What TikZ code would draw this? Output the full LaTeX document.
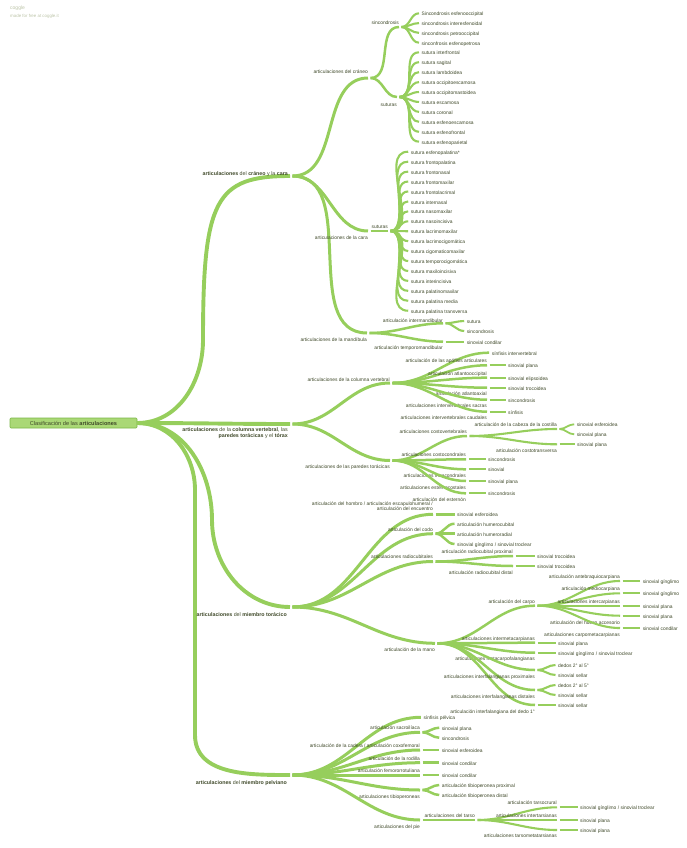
\documentclass[tikz,border=0pt]{standalone}
\usepackage{fontspec}
\setmainfont{Liberation Sans}
\usetikzlibrary{calc}
\definecolor{branchgreen}{RGB}{150,206,92}
\definecolor{rootfill}{RGB}{170,216,118}
\definecolor{rootline}{RGB}{122,182,70}
\definecolor{labeltext}{RGB}{62,72,40}
\definecolor{marktext}{RGB}{188,196,168}
\newcommand{\lblfont}{\fontsize{4.9}{5.6}\selectfont}
\newcommand{\topfont}{\fontsize{5.3}{6.1}\selectfont}
\tikzset{
  every node/.style={text=labeltext},
  br/.style={draw=branchgreen, line cap=butt, out=0, in=180},
  b1/.style={br, line width=3.9pt},
  b2/.style={br, line width=3pt},
  b3/.style={br, line width=2.5pt},
  b4/.style={br, line width=2.1pt},
  b5/.style={br, line width=1.8pt},
  lbl/.style={font=\lblfont, inner sep=0pt, anchor=mid east},
  up lbl/.style={lbl, yshift=5.2pt},
  down lbl/.style={lbl, yshift=-5.6pt},
  leaf/.style={font=\lblfont, inner xsep=2.5pt, inner ysep=0pt, anchor=mid west},
  top lbl/.style={font=\topfont, inner sep=0pt, align=right},
  rootbox/.style={draw=rootline, fill=rootfill, line width=0.6pt, rounded corners=1pt,
    minimum width=127pt, minimum height=10pt, inner sep=0pt,
    font=\fontsize{5.6}{6.4}\selectfont},
  watermark/.style={text=marktext, inner sep=0pt, anchor=mid west}
}

\begin{document}
\begin{tikzpicture}[x=1pt,y=-1pt]
  \useasboundingbox (0,0) rectangle (686,848);

  \node[watermark, font=\fontsize{5}{6}\selectfont] (cg) at (10,7) {coggle};
  \node[watermark, font=\fontsize{4.4}{5}\selectfont] (cgit) at (10,14.5) {made for free at coggle.it};

  \node[rootbox] (root) at (73.5,423) {Clasificación de las \textbf{articulaciones}};

  % primer nivel
  \coordinate (cc) at (290,176);
  \coordinate (cv) at (290,424);
  \coordinate (tor) at (290,607);
  \coordinate (pel) at (290,775);
  \draw[b1] (root.east) to[out=0,in=-90] (203,340)
    .. controls +(0,-140) and +(-75,0) .. (cc);
  \draw[b1] (root.east) to (cv);
  \draw[b1] (root.east) to[out=0,in=90] (212,520) to[out=-90,in=180] (tor);
  \draw[b1] (root.east) to[out=0,in=90] (195,490) -- (195,735) to[out=-90,in=180] (pel);
  \node[top lbl, anchor=mid east, yshift=3.6pt] (cc-t) at ([xshift=-2pt]cc)
    {\textbf{articulaciones} del \textbf{cráneo} y la \textbf{cara}};
  \node[top lbl, anchor=north east, yshift=-3.2pt] (cv-t) at ([xshift=-2pt]cv)
    {\textbf{articulaciones} de la \textbf{columna vertebral}, las\\\textbf{paredes torácicas} y el \textbf{tórax}};
  \node[top lbl, anchor=mid east, yshift=-6.7pt] (tor-t) at ([xshift=-3pt]tor)
    {\textbf{articulaciones} del \textbf{miembro torácico}};
  \node[top lbl, anchor=mid east, yshift=-7pt] (pel-t) at ([xshift=-3pt]pel)
    {\textbf{articulaciones} del \textbf{miembro pelviano}};

  % craneo y cara
  \coordinate (crn) at (368,78);
  \coordinate (cara) at (368,231);
  \coordinate (mand) at (367,333);
  \draw[b2] ([xshift=2.5pt]cc) to (crn);
  \draw[b2] ([xshift=2.5pt]cc) to (cara);
  \draw[b2] ([xshift=2.5pt]cc) to (mand);
  \node[up lbl, yshift=1.5pt] (crn-t) at (crn) {articulaciones del cráneo};
  \node[down lbl] (cara-t) at (cara) {articulaciones de la cara};
  \node[down lbl] (mand-t) at (mand) {articulaciones de la mandíbula};

  \coordinate (sinc) at (399,27);
  \coordinate (sutcr) at (397,97);
  \draw[b3] ([xshift=2.5pt]crn) to (sinc);
  \draw[b3] ([xshift=2.5pt]crn) to (sutcr);
  \node[up lbl] (sinc-t) at (sinc) {sincondrosis};
  \node[down lbl, yshift=-1pt] (sutcr-t) at (sutcr) {suturas};
  \foreach \txt [count=\i from 0] in {Sincondrosis esfenooccipital, sincondrosis interesfenoidal,
      sincondrosis petrooccipital, sinconfrosis esfenopetrosa} {
    \node[leaf] (sn\i) at (419,{13.3+9.8*\i}) {\txt};
    \draw[b4] ([xshift=2.5pt]sinc) to (sn\i.mid west);
  }
  \foreach \txt [count=\i from 0] in {sutura interfrontal, sutura sagital, sutura lambdoidea,
      sutura occipitoescamosa, sutura occipitomastoidea, sutura escamosa, sutura coronal,
      sutura esfenoescamosa, sutura esfenofrontal, sutura esfenoparietal} {
    \node[leaf] (sk\i) at (419,{52.3+9.93*\i}) {\txt};
    \draw[b4] ([xshift=2.5pt]sutcr) to (sk\i.mid west);
  }

  \coordinate (sutca) at (388,231);
  \draw[b3] ([xshift=2.5pt]cara) to (sutca);
  \node[up lbl] (sutca-t) at (sutca) {suturas};
  \foreach \txt [count=\i from 0] in {sutura esfenopalatina*, sutura frontopalatina,
      sutura frontonasal, sutura frontomaxilar, sutura frontolacrimal, sutura internasal,
      sutura nasomaxilar, sutura nasoincisiva, sutura lacrimomaxilar, sutura lacrimocigomática,
      sutura cigomaticomaxilar, sutura temporocigomática, sutura maxiloincisiva,
      sutura interincisiva, sutura palatinomaxilar, sutura palatina media,
      sutura palatina transversa} {
    \node[leaf] (sf\i) at (408.2,{151.7+9.94*\i}) {\txt};
    \draw[b4] ([xshift=2.5pt]sutca) to (sf\i.mid west);
  }

  \coordinate (imand) at (443,323.3);
  \coordinate (tmand) at (443,341.7);
  \draw[b3] ([xshift=2.5pt]mand) to (imand);
  \draw[b3] ([xshift=2.5pt]mand) to (tmand);
  \node[up lbl, yshift=-1.5pt] (imand-t) at (imand) {articulación intermandibular};
  \node[down lbl] (tmand-t) at (tmand) {articulación temporomandibular};
  \node[leaf] (im1) at (464.2,321) {sutura};
  \node[leaf] (im2) at (464.2,331) {sincondrosis};
  \node[leaf] (tm1) at (464.2,341.7) {sinovial condilar};
  \draw[b4] ([xshift=2.5pt]imand) to (im1.mid west);
  \draw[b4] ([xshift=2.5pt]imand) to (im2.mid west);
  \draw[b4] ([xshift=2.5pt]tmand) to (tm1.mid west);

  % columna vertebral y paredes toracicas
  \coordinate (col) at (390,383);
  \coordinate (par) at (390,460.5);
  \draw[b2] ([xshift=2.5pt]cv) to (col);
  \draw[b2] ([xshift=2.5pt]cv) to (par);
  \node[up lbl, yshift=-1pt] (col-t) at (col) {articulaciones de la columna vertebral};
  \node[down lbl] (par-t) at (par) {articulaciones de las paredes torácicas};

  \node[leaf] (sinv) at (489.2,352.7) {sínfisis intervertebral};
  \draw[b3] ([xshift=2.5pt]col) to (sinv.mid west);
  \foreach \nm/\y/\dy/\txt/\lf in {
      apo/365.3/5.2/articulación de las apófisis articulares/sinovial plana,
      atoc/377.7/5.2/articulación atlantooccipital/sinovial elipsoidea,
      atax/387.7/-5.6/articulación atlantoaxial/sinovial trocoidea,
      sacr/399.7/-5.6/articulaciones intervertebrales sacras/sincondrosis,
      caud/411.7/-5.6/articulaciones intervertebrales caudales/sínfisis} {
    \coordinate (\nm) at (487,\y);
    \draw[b3] ([xshift=2.5pt]col) to (\nm);
    \node[lbl, yshift=\dy pt] (\nm-t) at (\nm) {\txt};
    \node[leaf] (\nm-l) at (505.5,\y) {\lf};
    \draw[b4] ([xshift=2.5pt]\nm) to (\nm-l.mid west);
  }

  \coordinate (cvert) at (467,436);
  \draw[b3] ([xshift=2.5pt]par) to (cvert);
  \node[up lbl] (cvert-t) at (cvert) {articulaciones costovertebrales};
  \coordinate (cab) at (557,429);
  \coordinate (ctra) at (557,444.3);
  \draw[b4] ([xshift=2.5pt]cvert) to (cab);
  \draw[b4] ([xshift=2.5pt]cvert) to (ctra);
  \node[up lbl] (cab-t) at (cab) {articulación de la cabeza de la costilla};
  \node[down lbl] (ctra-t) at (ctra) {articulación costotransversa};
  \node[leaf] (cab1) at (574.2,424.3) {sinovial esferoidea};
  \node[leaf] (cab2) at (574.2,434.3) {sinovial plana};
  \node[leaf] (ctra1) at (574.5,444.3) {sinovial plana};
  \draw[b5] ([xshift=2.5pt]cab) to (cab1.mid west);
  \draw[b5] ([xshift=2.5pt]cab) to (cab2.mid west);
  \draw[b5] ([xshift=2.5pt]ctra) to (ctra1.mid west);
  \foreach \nm/\y/\dy/\txt/\lf in {
      ccon/459.3/5.6/articulaciones costocondrales/sincondrosis,
      intra/469.3/-5.4/articulaciones intracondrales/sinovial,
      estc/481/-5.8/articulaciones esternocostales/sinovial plana,
      estr/493.3/-5.8/articulación del esternón/sincondrosis} {
    \coordinate (\nm) at (466,\y);
    \draw[b3] ([xshift=2.5pt]par) to (\nm);
    \node[lbl, yshift=\dy pt] (\nm-t) at (\nm) {\txt};
    \node[leaf] (\nm-l) at (485.5,\y) {\lf};
    \draw[b4] ([xshift=2.5pt]\nm) to (\nm-l.mid west);
  }

  % miembro toracico
  \coordinate (hom) at (433,514.3);
  \coordinate (codo) at (433,533.7);
  \coordinate (radc) at (433,561.5);
  \coordinate (mano) at (435,643.3);
  \draw[b2] ([xshift=2.5pt]tor) to (hom);
  \draw[b2] ([xshift=2.5pt]tor) to (codo);
  \draw[b2] ([xshift=2.5pt]tor) to (radc);
  \draw[b2] ([xshift=2.5pt]tor) to (mano);
  \node[lbl, font=\fontsize{4.9}{5.1}\selectfont, align=right, anchor=south east, yshift=3.5pt]
    (hom-t) at (hom) {articulación del hombro / articulación escapulohumeral /\\articulación del encuentro};
  \node[up lbl] (codo-t) at (codo) {articulación del codo};
  \node[up lbl] (radc-t) at (radc) {articulaciones radiocubitales};
  \node[down lbl] (mano-t) at (mano) {articulación de la mano};
  \node[leaf] (hom1) at (454.5,514.3) {sinovial esferoidea};
  \draw[b3] ([xshift=2.5pt]hom) to (hom1.mid west);
  \foreach \y/\txt [count=\i] in {523.7/articulación humerocubital, 533.7/articulación humeroradial,
      544/{sinovial gínglimo / sinovial troclear}} {
    \node[leaf] (codo\i) at (454.5,\y) {\txt};
    \draw[b3] ([xshift=2.5pt]codo) to (codo\i.mid west);
  }
  \coordinate (rprox) at (513,556);
  \coordinate (rdist) at (513,566);
  \draw[b3] ([xshift=2.5pt]radc) to (rprox);
  \draw[b3] ([xshift=2.5pt]radc) to (rdist);
  \node[up lbl] (rprox-t) at (rprox) {articulación radiocubital proximal};
  \node[down lbl] (rdist-t) at (rdist) {articulación radiocubital distal};
  \node[leaf] (rprox1) at (534.5,556) {sinovial trocoidea};
  \node[leaf] (rdist1) at (534.5,566) {sinovial trocoidea};
  \draw[b4] ([xshift=2.5pt]rprox) to (rprox1.mid west);
  \draw[b4] ([xshift=2.5pt]rdist) to (rdist1.mid west);

  \coordinate (carpo) at (535,605.7);
  \draw[b3] ([xshift=2.5pt]mano) to (carpo);
  \node[up lbl] (carpo-t) at (carpo) {articulación del carpo};
  \foreach \nm/\y/\dy/\txt/\lf in {
      antb/581/5.3/articulación antebraquiocarpiana/sinovial gínglimo,
      medc/593.3/5.1/articulación mediocarpiana/sinovial gínglimo,
      intc/605.7/5.1/articulaciones intercarpianas/sinovial plana,
      acc/615.7/-5.9/articulación del hueso accesorio/sinovial plana,
      cmc/628/-5.4/articulaciones carpometacarpianas/sinovial condilar} {
    \coordinate (\nm) at (620,\y);
    \draw[b4] ([xshift=2.5pt]carpo) to (\nm);
    \node[lbl, yshift=\dy pt] (\nm-t) at (\nm) {\txt};
    \node[leaf] (\nm-l) at (640.2,\y) {\lf};
    \draw[b5] ([xshift=2.5pt]\nm) to (\nm-l.mid west);
  }
  \foreach \nm/\y/\dy/\txt/\lf in {
      imc/642.7/5.1/articulaciones intermetacarpianas/sinovial plana,
      mcf/652.7/-5.6/articulaciones metacarpofalangianas/{sinovial gínglimo / sinovial troclear},
      if1/705/-5.7/articulación interfalangiana del dedo 1°/sinovial sellar} {
    \coordinate (\nm) at (535,\y);
    \draw[b3] ([xshift=2.5pt]mano) to (\nm);
    \node[lbl, yshift=\dy pt] (\nm-t) at (\nm) {\txt};
    \node[leaf] (\nm-l) at (555.5,\y) {\lf};
    \draw[b4] ([xshift=2.5pt]\nm) to (\nm-l.mid west);
  }
  \coordinate (ifp) at (535,670);
  \coordinate (ifd) at (535,690);
  \draw[b3] ([xshift=2.5pt]mano) to (ifp);
  \draw[b3] ([xshift=2.5pt]mano) to (ifd);
  \node[down lbl] (ifp-t) at (ifp) {articulaciones interfalangianas proximales};
  \node[down lbl] (ifd-t) at (ifd) {articulaciones interfalangianas distales};
  \node[leaf] (ifp1) at (555.5,665) {dedos 2° al 5°};
  \node[leaf] (ifp2) at (555.5,675) {sinovial sellar};
  \node[leaf] (ifd1) at (555.5,685) {dedos 2° al 5°};
  \node[leaf] (ifd2) at (555.5,695) {sinovial sellar};
  \draw[b4] ([xshift=2.5pt]ifp) to (ifp1.mid west);
  \draw[b4] ([xshift=2.5pt]ifp) to (ifp2.mid west);
  \draw[b4] ([xshift=2.5pt]ifd) to (ifd1.mid west);
  \draw[b4] ([xshift=2.5pt]ifd) to (ifd2.mid west);

  % miembro pelviano
  \node[leaf] (sinp) at (420.8,717.3) {sínfisis pélvica};
  \draw[b2] ([xshift=2.5pt]pel) to (sinp.mid west);
  \coordinate (sacro) at (420,732.3);
  \draw[b2] ([xshift=2.5pt]pel) to (sacro);
  \node[up lbl] (sacro-t) at (sacro) {articulación sacroilíaca};
  \node[leaf] (sacro1) at (439.2,727.7) {sinovial plana};
  \node[leaf] (sacro2) at (439.2,737.7) {sincondrosis};
  \draw[b3] ([xshift=2.5pt]sacro) to (sacro1.mid west);
  \draw[b3] ([xshift=2.5pt]sacro) to (sacro2.mid west);
  \foreach \nm/\y/\txt/\lf in {
      cad/750/{articulación de la cadera / articulación coxofemoral}/sinovial esferoidea,
      rod/762.7/articulación de la rodilla/sinovial condilar,
      fem/775/articulación femororrotuliana/sinovial condilar} {
    \coordinate (\nm) at (420,\y);
    \draw[b2] ([xshift=2.5pt]pel) to (\nm);
    \node[up lbl] (\nm-t) at (\nm) {\txt};
    \node[leaf] (\nm-l) at (439.2,\y) {\lf};
    \draw[b3] ([xshift=2.5pt]\nm) to (\nm-l.mid west);
  }
  \coordinate (tib) at (420,790);
  \draw[b2] ([xshift=2.5pt]pel) to (tib);
  \node[down lbl] (tib-t) at (tib) {articulaciones tibioperoneas};
  \node[leaf] (tib1) at (439.2,785) {articulación tibioperonea proximal};
  \node[leaf] (tib2) at (439.2,795) {articulación tibioperonea distal};
  \draw[b3] ([xshift=2.5pt]tib) to (tib1.mid west);
  \draw[b3] ([xshift=2.5pt]tib) to (tib2.mid west);

  \coordinate (pie) at (420,820);
  \coordinate (tarso) at (475,820);
  \draw[b2] ([xshift=2.5pt]pel) to (pie);
  \draw[b3] ([xshift=2.5pt]pie) to (tarso);
  \node[down lbl] (pie-t) at (pie) {articulaciones del pie};
  \node[up lbl] (tarso-t) at (tarso) {articulaciones del tarso};
  \foreach \nm/\y/\dy/\txt/\lf in {
      tcr/807.3/5.1/articulación tarsocrural/{sinovial gínglimo / sinovial troclear},
      itar/820/5.1/articulaciones intertarsianas/sinovial plana,
      tmt/830/-5.2/articulaciones tarsometatarsianas/sinovial plana} {
    \coordinate (\nm) at (557,\y);
    \draw[b4] ([xshift=2.5pt]tarso) to (\nm);
    \node[lbl, yshift=\dy pt] (\nm-t) at (\nm) {\txt};
    \node[leaf] (\nm-l) at (577.5,\y) {\lf};
    \draw[b5] ([xshift=2.5pt]\nm) to (\nm-l.mid west);
  }
\end{tikzpicture}
\end{document}
